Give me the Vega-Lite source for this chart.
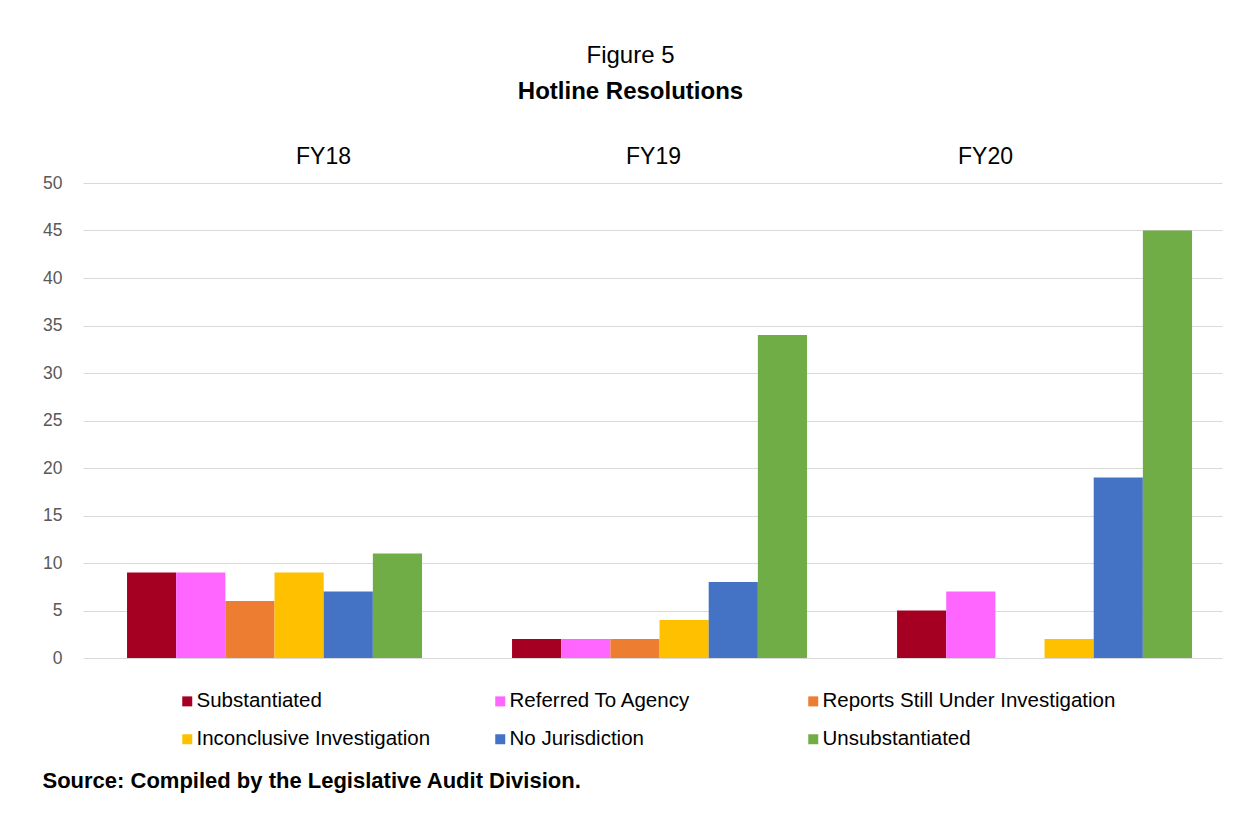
{
  "$schema": "https://vega.github.io/schema/vega-lite/v6.json",
  "width": 1139,
  "height": 475,
  "autosize": {"type": "none"},
  "padding": {"left": 83, "top": 183, "right": 28, "bottom": 167},
  "background": "white",
  "title": {
    "text": "Figure 5",
    "subtitle": "Hotline Resolutions",
    "anchor": "middle",
    "dx": -22,
    "offset": 41,
    "font": "Liberation Sans",
    "fontSize": 24,
    "fontWeight": "normal",
    "color": "black",
    "subtitleFont": "Liberation Sans",
    "subtitleFontSize": 24,
    "subtitleFontWeight": "bold",
    "subtitleColor": "black",
    "subtitlePadding": 12
  },
  "data": {
    "values": [
      {"year": "FY18", "category": "Substantiated", "count": 9},
      {"year": "FY18", "category": "Referred To Agency", "count": 9},
      {"year": "FY18", "category": "Reports Still Under Investigation", "count": 6},
      {"year": "FY18", "category": "Inconclusive Investigation", "count": 9},
      {"year": "FY18", "category": "No Jurisdiction", "count": 7},
      {"year": "FY18", "category": "Unsubstantiated", "count": 11},
      {"year": "FY19", "category": "Substantiated", "count": 2},
      {"year": "FY19", "category": "Referred To Agency", "count": 2},
      {"year": "FY19", "category": "Reports Still Under Investigation", "count": 2},
      {"year": "FY19", "category": "Inconclusive Investigation", "count": 4},
      {"year": "FY19", "category": "No Jurisdiction", "count": 8},
      {"year": "FY19", "category": "Unsubstantiated", "count": 34},
      {"year": "FY20", "category": "Substantiated", "count": 5},
      {"year": "FY20", "category": "Referred To Agency", "count": 7},
      {"year": "FY20", "category": "Inconclusive Investigation", "count": 2},
      {"year": "FY20", "category": "No Jurisdiction", "count": 19},
      {"year": "FY20", "category": "Unsubstantiated", "count": 45}
    ]
  },
  "mark": {"type": "bar"},
  "encoding": {
    "x": {
      "field": "year",
      "type": "nominal",
      "sort": ["FY18", "FY19", "FY20"],
      "scale": {"paddingInner": 0.2338, "paddingOuter": 0.0961, "align": 0.595},
      "axis": {
        "orient": "top",
        "title": null,
        "ticks": false,
        "domain": false,
        "labelAngle": 0,
        "labelFont": "Liberation Sans",
        "labelFontSize": 23,
        "labelColor": "black",
        "labelPadding": 15,
        "labelOffset": {"expr": "datum.value == 'FY18' ? 49 : datum.value == 'FY19' ? -6 : -59"}
      }
    },
    "xOffset": {
      "field": "category",
      "type": "nominal",
      "sort": ["Substantiated", "Referred To Agency", "Reports Still Under Investigation", "Inconclusive Investigation", "No Jurisdiction", "Unsubstantiated"],
      "scale": {"paddingInner": 0, "paddingOuter": 0}
    },
    "y": {
      "field": "count",
      "type": "quantitative",
      "scale": {"domain": [0, 50], "nice": false},
      "axis": {
        "values": [0, 5, 10, 15, 20, 25, 30, 35, 40, 45, 50],
        "ticks": false,
        "domain": false,
        "grid": true,
        "gridColor": "#D9D9D9",
        "gridWidth": 1.2,
        "labelFont": "Liberation Sans",
        "labelFontSize": 17.5,
        "labelColor": "#595959",
        "labelPadding": 21,
        "title": "Source: Compiled by the Legislative Audit Division.",
        "titleAngle": 0,
        "titleAlign": "left",
        "titleBaseline": "middle",
        "titleX": -41,
        "titleY": 597,
        "titleFont": "Liberation Sans",
        "titleFontSize": 22,
        "titleFontWeight": "bold",
        "titleColor": "black"
      }
    },
    "color": {
      "field": "category",
      "type": "nominal",
      "scale": {
        "domain": ["Substantiated", "Referred To Agency", "Reports Still Under Investigation", "Inconclusive Investigation", "No Jurisdiction", "Unsubstantiated"],
        "range": ["#A50021", "#FF66FF", "#ED7D31", "#FFC000", "#4472C4", "#70AD47"]
      },
      "legend": {
        "orient": "none",
        "legendX": 94,
        "legendY": 508,
        "direction": "horizontal",
        "columns": 3,
        "gridAlign": "all",
        "columnPadding": 0,
        "rowPadding": 17,
        "title": null,
        "symbolType": "square",
        "symbolSize": 100,
        "symbolStrokeWidth": 0,
        "labelFont": "Liberation Sans",
        "labelFontSize": 20.5,
        "labelColor": "black",
        "labelOffset": -1,
        "labelLimit": 400
      }
    }
  },
  "config": {
    "view": {"stroke": null}
  }
}
